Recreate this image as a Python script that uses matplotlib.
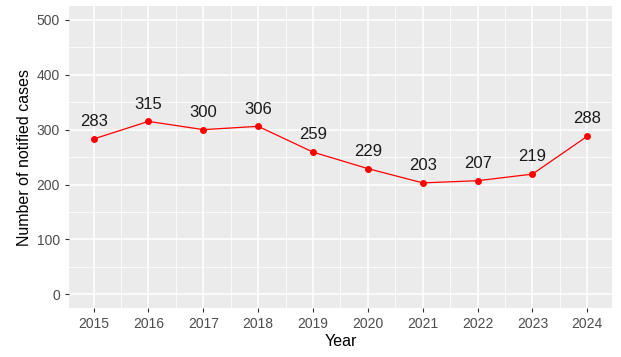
import matplotlib
matplotlib.use("Agg")
import matplotlib.pyplot as plt
import numpy as np

years = [2015, 2016, 2017, 2018, 2019, 2020, 2021, 2022, 2023, 2024]
cases = [283, 315, 300, 306, 259, 229, 203, 207, 219, 288]
yticks = [0, 100, 200, 300, 400, 500]

plt.rcParams['font.family'] = ['Liberation Sans', 'DejaVu Sans']

fig = plt.figure(figsize=(6.21, 3.57), dpi=100)
ax = fig.add_axes([0.111, 0.137, 0.8745, 0.846])
ax.set_facecolor('#EBEBEB')
for s in ax.spines.values():
    s.set_visible(False)

ax.set_xlim(2014.55, 2024.45)
ax.set_ylim(-25, 525)
ax.set_xticks(years)
ax.set_xticks(np.arange(2015.5, 2024, 1.0), minor=True)
ax.set_yticks(yticks)
ax.set_yticks(np.arange(50, 500, 100), minor=True)
ax.grid(which='major', color='white', linewidth=1.1)
ax.grid(which='minor', color='white', linewidth=0.55)
ax.set_axisbelow(True)
ax.tick_params(which='major', colors='#333333', length=3, labelsize=10, labelcolor='#4D4D4D')
ax.tick_params(which='minor', length=0)

ax.plot(years, cases, color='red', linewidth=0.9, marker='o', markersize=4, zorder=3)
for x, y in zip(years, cases):
    ax.annotate(str(y), (x, y), xytext=(0, 7), textcoords='offset points',
                ha='center', va='bottom', fontsize=12, color='#1A1A1A')

ax.set_xlabel('Year', fontsize=11.5, labelpad=2)
ax.set_ylabel('Number of notified cases', fontsize=11.5, labelpad=3)

fig.savefig('out.png', dpi=100)
